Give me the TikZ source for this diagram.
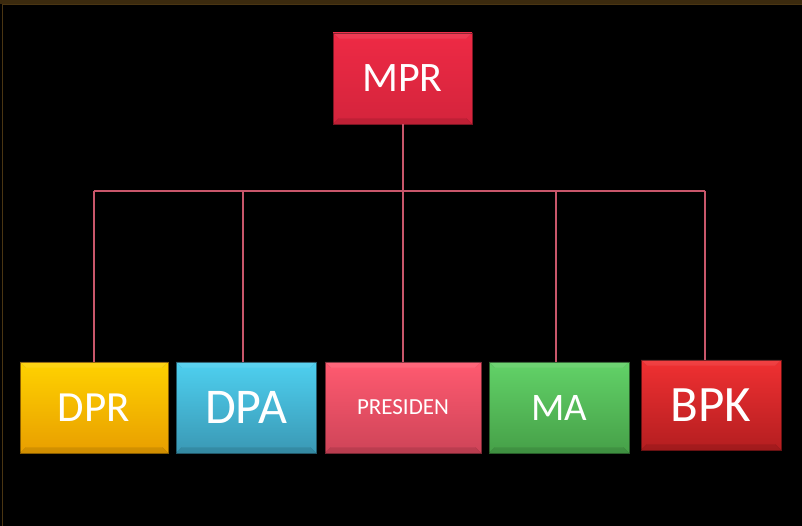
\documentclass[tikz,border=0pt]{standalone}
\usepackage{fontspec}
\setmainfont{Carlito}
\definecolor{bus}{HTML}{C8566A}
\definecolor{frameb}{HTML}{4A3512}
\definecolor{mprT}{HTML}{EE2A45}\definecolor{mprB}{HTML}{D4243C}
\definecolor{dprT}{HTML}{FFD200}\definecolor{dprB}{HTML}{E89E00}
\definecolor{dpaT}{HTML}{4ED0F0}\definecolor{dpaB}{HTML}{3A98B4}
\definecolor{preT}{HTML}{FF5A70}\definecolor{preB}{HTML}{CE4458}
\definecolor{maT}{HTML}{62D268}\definecolor{maB}{HTML}{46A048}
\definecolor{bpkT}{HTML}{F03032}\definecolor{bpkB}{HTML}{B41E20}
\tikzset{
  orgbox/.style={draw=#1B!60!black, top color=#1T, bottom color=#1B, line width=0.8pt, minimum height=91pt, inner sep=0pt, text=white, anchor=center},
  conn/.style={draw=bus, line width=2pt},
  bevel/.style={line width=0.6pt, draw=black, opacity=0.07},
  label/.style={text=white, inner sep=0pt},
}
\begin{document}
\begin{tikzpicture}[x=1pt,y=1pt]
\useasboundingbox (0,0) rectangle (802,-526);
\fill[black] (0,0) rectangle (802,-526);
\fill[frameb!80!black] (0,0) rectangle (802,-4);
\draw[frameb, line width=1.2pt] (2.5,-526) -- (2.5,-4.5) -- (802,-4.5);
\node[orgbox=mpr, minimum width=139pt] (mpr) at (402.5,-78.5) {};
\node[orgbox=dpr, minimum width=148pt] (dpr) at (94,-407.5) {};
\node[orgbox=dpa, minimum width=140pt] (dpa) at (246,-407.5) {};
\node[orgbox=pre, minimum width=156pt] (pres) at (403,-407.5) {};
\node[orgbox=ma, minimum width=140pt] (ma) at (559,-407.5) {};
\node[orgbox=bpk, minimum width=140pt, minimum height=90pt] (bpk) at (711,-405) {};
\foreach \n in {mpr,dpr,dpa,pres,ma,bpk}{
  \draw[bevel] (\n.south west) -- ++(6pt,6pt) (\n.south east) -- ++(-6pt,6pt)
               (\n.north west) -- ++(6pt,-6pt) (\n.north east) -- ++(-6pt,-6pt);
  \fill[white, opacity=0.08] (\n.north west) -- (\n.north east) -- ++(-6pt,-6pt) -- ([shift={(6pt,-6pt)}]\n.north west) -- cycle;
  \fill[black, opacity=0.10] (\n.south west) -- (\n.south east) -- ++(-6pt,6pt) -- ([shift={(6pt,6pt)}]\n.south west) -- cycle;
}
\node[label, font=\fontsize{42}{42}\selectfont] (tmpr) at (mpr.center) {MPR};
\node[label, font=\fontsize{43}{43}\selectfont] (tdpr) at (dpr.center) {DPR};
\node[label, font=\fontsize{50}{50}\selectfont] (tdpa) at (dpa.center) {DPA};
\node[label, font=\fontsize{23}{23}\selectfont] (tpres) at (pres.center) {PRESIDEN};
\node[label, font=\fontsize{39}{39}\selectfont] (tma) at (ma.center) {MA};
\node[label, font=\fontsize{51}{51}\selectfont] (tbpk) at (bpk.center) {BPK};
\coordinate (j1) at (94,-191);
\coordinate (j2) at (243,-191);
\coordinate (j3) at (403,-191);
\coordinate (j4) at (556,-191);
\coordinate (j5) at (705,-191);
\draw[conn] (mpr.south) -- (mpr.south |- j3);
\draw[conn] (j1) -- (j5);
\draw[conn] (j1) -- (j1 |- dpr.north);
\draw[conn] (j2) -- (j2 |- dpa.north);
\draw[conn] (j3) -- (j3 |- pres.north);
\draw[conn] (j4) -- (j4 |- ma.north);
\draw[conn] (j5) -- (j5 |- bpk.north);
\end{tikzpicture}
\end{document}
